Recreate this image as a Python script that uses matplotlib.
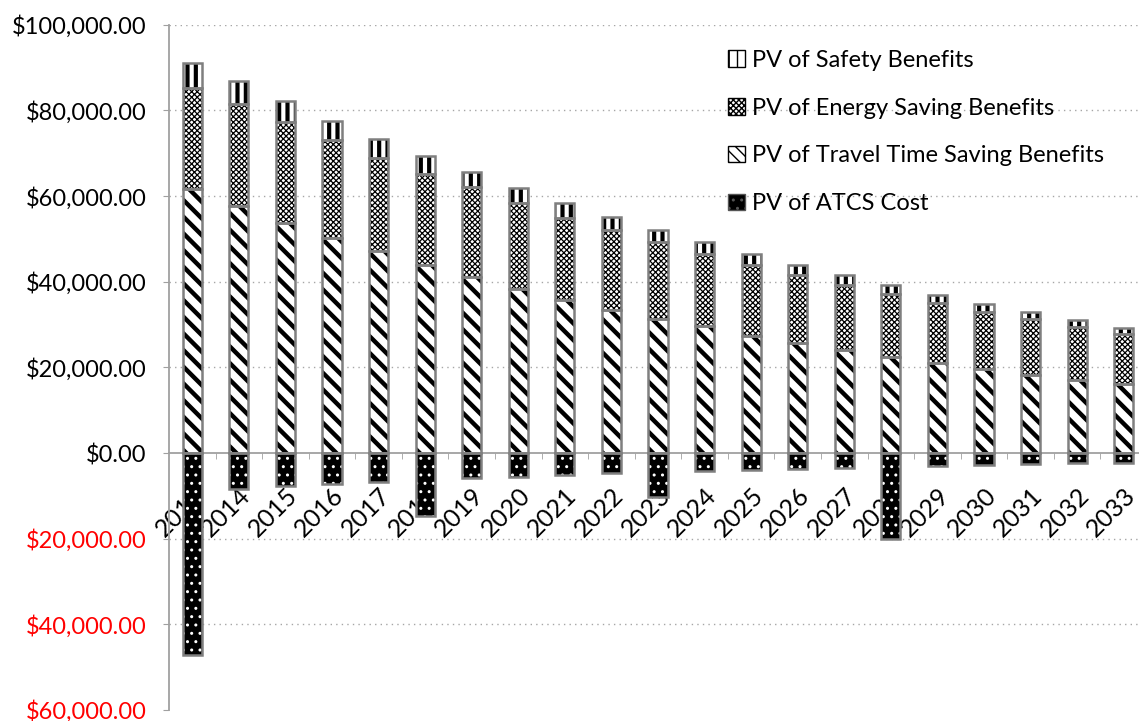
import matplotlib
matplotlib.use("Agg")
import matplotlib.pyplot as plt
from matplotlib.patches import Patch
from matplotlib.transforms import ScaledTranslation

# present values per year (USD)
years = [str(y) for y in range(2013, 2034)]
travel_time = [61700, 57600, 53800, 50300, 47100, 44000, 41100, 38400, 35800, 33500, 31400,
               29600, 27300, 25600, 24000, 22400, 20900, 19600, 18300, 17000, 16000]
energy = [23500, 23900, 23400, 22700, 21800, 21200, 21000, 19900, 19000, 18500, 17900,
          16800, 16500, 15900, 15300, 14700, 14100, 13400, 12900, 12400, 11700]
safety = [5800, 5300, 4900, 4600, 4400, 4100, 3400, 3500, 3500, 3200, 2800,
          2900, 2700, 2300, 2200, 2100, 2000, 1900, 1700, 1600, 1500]
atcs_cost = [-47200, -8400, -7700, -7200, -6800, -14700, -5900, -5500, -5100, -4700, -10300,
             -4200, -4000, -3700, -3500, -20000, -3000, -2800, -2600, -2400, -2300]
y_ticks = [-60000, -40000, -20000, 0, 20000, 40000, 60000, 80000, 100000]

plt.rcParams['font.family'] = ['Lato', 'DejaVu Sans']

fig = plt.figure(figsize=(11.39, 7.21), dpi=100)
ax = fig.add_axes([169 / 1139, 11 / 721, 978 / 1139, 685.3 / 721])

x = list(range(len(years)))
width = 0.41
border = '#7f7f7f'


def stacked(vals, bottom, face, hatch, hcolor, hlw):
    bars = ax.bar(x, vals, width, bottom=bottom, color=face, edgecolor=hcolor,
                  hatch=hatch, linewidth=0, zorder=2)
    for b in bars:
        if hasattr(b, 'set_hatch_linewidth'):
            b.set_hatch_linewidth(hlw)
    ax.bar(x, vals, width, bottom=bottom, fill=False, edgecolor=border,
           linewidth=1.8, zorder=3)


base_energy = travel_time
base_safety = [t + e for t, e in zip(travel_time, energy)]

stacked(travel_time, 0, 'white', '\\\\', 'black', 3.2)
stacked(energy, base_energy, 'white', 'xxxxxx', 'black', 0.9)
stacked(safety, base_safety, 'white', '||', 'black', 3.0)
stacked(atcs_cost, 0, 'black', '..', 'white', 1.0)

# axes styling
ax.set_xlim(-0.5, len(years) - 0.5)
ax.set_ylim(-60000, 100000)
ax.set_axisbelow(True)
for s in ['top', 'right']:
    ax.spines[s].set_visible(False)
ax.spines['left'].set_color('#a0a0a0')
ax.spines['left'].set_linewidth(1.3)
ax.spines['bottom'].set_position(('data', 0))
ax.spines['bottom'].set_color('#a0a0a0')
ax.spines['bottom'].set_linewidth(1.3)

for v in y_ticks:
    if v not in (0, -60000):
        ax.axhline(v, color='#a6a6a6', linestyle=(0, (1, 3)), linewidth=1, zorder=0.5)

ax.set_yticks(y_ticks)
ax.set_yticklabels([f"${abs(v):,.2f}" for v in y_ticks], fontsize=17)
for lbl, v in zip(ax.get_yticklabels(), y_ticks):
    lbl.set_color('red' if v < 0 else 'black')
ax.tick_params(axis='y', direction='out', length=4, color='#a0a0a0', pad=12)

ax.set_xticks(x)
ax.set_xticklabels(years, fontsize=18, rotation=45, ha='right', rotation_mode='anchor')
shift = ScaledTranslation(-4 / 100, 0, fig.dpi_scale_trans)
for lbl in ax.get_xticklabels():
    lbl.set_transform(lbl.get_transform() + shift)
ax.set_xticks([i + 0.5 for i in x[:-1]], minor=True)
ax.tick_params(axis='x', which='major', length=0, pad=22)
ax.tick_params(axis='x', which='minor', direction='out', length=4, color='#a0a0a0')

handles = [
    Patch(facecolor='white', edgecolor='black', hatch='||', label='PV of Safety Benefits'),
    Patch(facecolor='white', edgecolor='black', hatch='xxxxxx', label='PV of Energy Saving Benefits'),
    Patch(facecolor='white', edgecolor='black', hatch='\\\\\\', label='PV of Travel Time Saving Benefits'),
    Patch(facecolor='black', edgecolor='#555555', hatch='..', label='PV of ATCS Cost'),
]
ax.legend(handles=handles, loc='upper left', bbox_to_anchor=(728 / 1139, 1 - 50 / 721),
          bbox_transform=fig.transFigure, frameon=False, fontsize=17,
          handlelength=0.7, handleheight=0.7, handletextpad=0.3, labelspacing=1.13,
          borderpad=0, borderaxespad=0)

fig.savefig('out.png', dpi=100)
